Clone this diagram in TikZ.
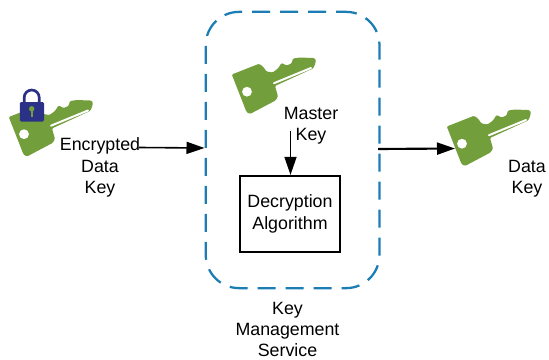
\documentclass[tikz,border=0pt]{standalone}
\usepackage{fontspec}
\setmainfont{Liberation Sans}
\usetikzlibrary{arrows.meta}
\definecolor{keygreen}{HTML}{739E3C}
\definecolor{lockblue}{HTML}{2B3187}
\definecolor{kmsblue}{HTML}{1B7DB4}
\tikzset{
  x=0.75pt,y=-0.75pt,
  lbl/.style={font=\fontsize{13.35}{16}\selectfont,align=center,inner sep=0pt,text=black},
  conn/.style={line width=1.2pt,-{Triangle[length=13.5pt,width=9pt]}},
  keyart/.pic={
    \fill[keygreen,rounded corners=0.8pt]
      (6.8,24.5) -- (34,13.8) -- (38,16.5) -- (41.5,21.5) -- (47.5,22.5) -- (53,18.5) -- (56.5,13)
      -- (61.5,15.5) -- (66.5,13.5) -- (68,8.5) -- (75,7.5) -- (87,8)
      to[out=0,in=60,looseness=1.3] (88,18.5) -- (50,36) -- (53,46.5) -- (50.5,50.5) -- (25,64) -- (21.5,62) -- cycle;
    \draw[white,line width=1.5pt,line cap=round] (49,33.2) -- (86,18);
    \fill[white] (22,41.7) circle (4.9);
  }
}
\begin{document}
\begin{tikzpicture}
\useasboundingbox (0,0) rectangle (549,360);
\pic at (225,50) {keyart};
\pic at (440,102) {keyart};
\pic at (2,92.5) {keyart};
% padlock
\fill[lockblue,rounded corners=1pt] (19.8,102) rectangle (44,121.5);
\draw[lockblue,line width=2pt] (24.2,104) -- (24.2,97.5) arc[start angle=180,end angle=360,radius=7.5] -- (39.2,104);
\fill[keygreen] (31.7,108.8) circle (2.7);
\fill[keygreen] (30.8,108.8) rectangle (32.6,117.3);
% KMS
\node[draw=kmsblue,line width=1.7pt,dash pattern=on 13.5pt off 7.5pt,dash phase=6pt,rounded corners=25pt,minimum width=130.3pt,minimum height=207.2pt,inner sep=0pt] (kms) at (292.6,150) {};
\node[draw=black,line width=1.7pt,minimum width=75.5pt,minimum height=57pt,inner sep=0pt,lbl] (algo) at (290,214) {Decryption\\Algorithm};
\node[lbl] (enc) at (100,167.7) {Encrypted\\Data\\Key};
\node[lbl] (master) at (311,125.5) {Master\\Key};
\node[lbl] (data) at (527,178.7) {Data\\Key};
\node[lbl] (kmslabel) at (287.5,329.5) {Key\\Management\\Service};
\coordinate (encout) at (139,147.5);
\coordinate (kmsin) at (204.5,148);
\coordinate (mout) at (290.5,131);
\coordinate (kmsout) at (378,149);
\coordinate (dataout) at (455,148.5);
\draw[conn] (encout) -- (kmsin);
\draw[conn] (mout) -- (algo.north -| mout);
\draw[conn,line width=1.6pt] (kmsout) -- (dataout);
\end{tikzpicture}
\end{document}
